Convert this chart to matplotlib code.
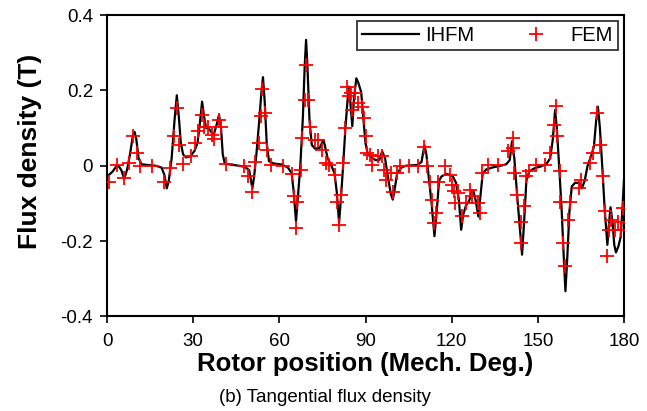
#!/usr/bin/env python3

import numpy as np
import matplotlib.pyplot as plt

plt.rcParams['font.family'] = ['Liberation Sans', 'DejaVu Sans']

# IHFM curve (rotor position in mech. deg., tangential flux density in T)
ihfm_pos = [0, 1, 2, 3, 4, 5, 6, 7, 8, 9, 9.6, 10.2, 11, 12, 14, 17, 19, 20, 20.8, 21.5,
            22.5, 23.5, 24.3, 25, 25.7, 26.5, 27.5, 29, 30.5, 31.5, 32.3, 33.1, 33.8, 34.5,
            35.5, 36.5, 37.3, 38.2, 39, 39.7, 40.3, 41, 43, 46, 48, 49.5, 50.6, 51.2, 52, 53,
            53.8, 54.3, 54.9, 55.6, 56.4, 58, 61, 63, 64.3, 65.0, 65.8, 66.5, 67.3, 68.2,
            68.8, 69.3, 69.8, 70.5, 71.3, 72.5, 74, 74.8, 75.3, 75.8, 76.8, 78, 79.2, 80,
            80.8, 81.5, 82.2, 83, 83.8, 84.3, 84.8, 85.4, 86, 86.8, 87.5, 88.5, 89.3, 90,
            90.8, 92, 93.5, 94.8, 95.8, 96.8, 97.8, 98.8, 99.5, 100.2, 101, 102.5, 104, 108,
            109.5, 110.5, 111.2, 112, 113, 114, 114.8, 115.6, 116.5, 118, 119.5, 120.5,
            121.5, 122.5, 123.3, 124, 125, 126, 127, 127.5, 128.3, 129.3, 130, 130.8, 132,
            134, 137, 139, 140.2, 141.0, 141.8, 142.8, 143.8, 144.5, 145.2, 146, 147, 149,
            151, 153, 154.3, 155.2, 156, 156.6, 157.4, 158.3, 159, 159.6, 160.2, 161, 161.8,
            163, 164.3, 165.3, 166.3, 167.3, 168.5, 169.5, 170.3, 170.9, 171.6, 172.4,
            173.3, 174.2, 174.8, 175.3, 176, 176.6, 177.2, 178, 178.8, 179.4, 180]
ihfm_b = [-0.028, -0.022, -0.015, -0.004, 0.0, -0.012, -0.035, -0.01, 0.03, 0.08, 0.09, 0.07,
          0.02, 0.004, 0.002, 0.0, -0.005, -0.025, -0.06, -0.04, 0.02, 0.12, 0.187, 0.13,
          0.06, 0.03, 0.022, 0.025, 0.04, 0.06, 0.11, 0.17, 0.13, 0.1, 0.098, 0.087, 0.086,
          0.11, 0.135, 0.1, 0.03, 0.006, 0.003, 0.0, -0.003, -0.012, -0.06, -0.03, 0.03,
          0.12, 0.2, 0.235, 0.17, 0.06, 0.012, 0.006, 0.003, -0.005, -0.02, -0.07, -0.148,
          -0.08, 0.0, 0.13, 0.26, 0.334, 0.26, 0.12, 0.055, 0.045, 0.047, 0.06, 0.068,
          0.055, 0.02, 0.002, -0.02, -0.07, -0.152, -0.08, 0.0, 0.1, 0.18, 0.21, 0.16,
          0.105, 0.18, 0.232, 0.22, 0.195, 0.12, 0.06, 0.03, 0.022, 0.015, 0.015, 0.038,
          0.02, -0.03, -0.075, -0.09, -0.06, -0.02, -0.005, 0.0, 0.002, 0.01, 0.054, 0.03,
          -0.03, -0.1, -0.187, -0.12, -0.04, -0.028, -0.022, -0.024, -0.03, -0.045, -0.09,
          -0.17, -0.13, -0.105, -0.095, -0.07, -0.065, -0.09, -0.135, -0.08, -0.02, -0.01,
          -0.005, 0.0, 0.004, 0.015, 0.065, 0.02, -0.08, -0.17, -0.236, -0.15, -0.04,
          -0.015, -0.006, -0.002, 0.005, 0.02, 0.07, 0.148, 0.1, 0.0, -0.12, -0.24, -0.333,
          -0.25, -0.12, -0.055, -0.045, -0.046, -0.06, -0.04, 0.0, 0.025, 0.05, 0.12, 0.157,
          0.1, 0.0, -0.12, -0.21, -0.15, -0.11, -0.15, -0.21, -0.23, -0.215, -0.19, -0.12,
          -0.035]

# FEM samples
fem_pos = [0.6, 3.6, 5.8, 7.5, 9.2, 10.4, 11.5, 15.8, 20, 21.9, 23.3, 24.4, 25, 26.6, 29.3,
           30.5, 31.6, 33.1, 33.9, 35.2, 36.5, 37.4, 39.1, 39.7, 41.3, 47.7, 49.2, 50.6,
           51.6, 52.8, 53.5, 53.9, 54.9, 55.6, 57.1, 61.4, 64.3, 65, 66.1, 65.7, 67.4, 67.9,
           69, 69.3, 70, 70.7, 72.5, 73.6, 75, 76.2, 77.2, 79.4, 80.1, 80.8, 81.5, 82.2,
           82.7, 83.7, 84.1, 84.8, 85.4, 86.5, 87.4, 88.7, 89.4, 90, 90.6, 91.6, 92.3, 94.5,
           95.9, 96.6, 97.3, 98.7, 99.5, 100.9, 102, 105.2, 108.1, 110.3, 111.4, 112.4,
           113.1, 113.9, 114.6, 115.3, 117.5, 119.3, 120, 120.8, 121.1, 122.2, 123.6, 125.1,
           126.5, 127.2, 129, 129.7, 130.4, 132.5, 136.1, 139.7, 141.2, 141.4, 141.8, 142.6,
           144, 144.3, 145.2, 145.8, 146.9, 149.5, 152.4, 154.1, 155.5, 156.3, 156.7, 157.7,
           157.7, 158.7, 159.6, 160.6, 161.3, 164.9, 164.2, 168.2, 169.2, 170.6, 171.6,
           172.8, 173.5, 173.9, 174.9, 175.6, 176.8, 177.8, 178.9, 179.6]
fem_b = [-0.042, 0.003, -0.033, 0.007, 0.08, 0.035, -0.002, -0.002, -0.044, -0.006, 0.078,
         0.153, 0.056, 0.005, 0.025, 0.06, 0.093, 0.135, 0.104, 0.102, 0.082, 0.071, 0.122,
         0.102, 0.005, -0.002, -0.028, -0.07, 0.011, 0.06, 0.131, 0.203, 0.14, 0.042, 0.003,
         -0.002, -0.021, -0.081, -0.095, -0.165, -0.011, 0.073, 0.175, 0.268, 0.175, 0.104,
         0.069, 0.069, 0.042, 0.007, 0.003, -0.024, -0.095, -0.156, -0.077, 0.007, 0.1,
         0.21, 0.184, 0.193, 0.148, 0.193, 0.166, 0.157, 0.126, 0.078, 0.034, 0.029, 0.003,
         0.025, 0.025, -0.011, -0.037, -0.019, -0.071, -0.019, 0.0, 0.0, 0.0, 0.051, 0.0,
         -0.042, -0.09, -0.152, -0.125, -0.042, -0.002, -0.024, -0.05, -0.068, -0.099,
         -0.072, -0.134, -0.099, -0.064, -0.081, -0.099, -0.125, -0.019, 0.003, 0.003,
         0.038, 0.073, 0.047, -0.019, -0.077, -0.148, -0.205, -0.108, -0.028, -0.015, 0.003,
         0.003, 0.034, 0.109, 0.159, 0.078, -0.013, -0.095, -0.205, -0.267, -0.143, -0.095,
         -0.037, -0.059, 0.007, 0.034, 0.14, 0.056, -0.028, -0.121, -0.24, -0.17, -0.143,
         -0.17, -0.148, -0.17, -0.112]

xticks = [0, 30, 60, 90, 120, 150, 180]
yticks = [-0.4, -0.2, 0, 0.2, 0.4]
ytick_labels = ["-0.4", "-0.2", "0", "0.2", "0.4"]

fig = plt.figure(figsize=(6.47, 4.11), dpi=100)
ax = fig.add_axes([0.1654, 0.23, 0.7991, 0.7335])

ax.plot(ihfm_pos, ihfm_b, color='black', lw=1.6, label='IHFM', zorder=2)
ax.plot(fem_pos, fem_b, ls='none', marker='+', ms=9.5, mew=1.3, color='red',
        label='FEM', zorder=3)

ax.set_xlim(0, 180)
ax.set_ylim(-0.4, 0.4)
ax.set_xticks(xticks)
ax.set_yticks(yticks, ytick_labels)
ax.tick_params(direction='out', length=5, width=1.2, labelsize=13.5)
ax.tick_params(axis='x', pad=7)
ax.tick_params(axis='y', pad=5)
for s in ax.spines.values():
    s.set_linewidth(1.5)

ax.set_xlabel('Rotor position (Mech. Deg.)', fontsize=18.5, fontweight='bold', va='top')
ax.xaxis.set_label_coords(0.5, -0.118)
ax.set_ylabel('Flux density (T)', fontsize=19, fontweight='bold')
ax.yaxis.set_label_coords(-0.126, 0.546)

leg = ax.legend(loc='upper right', ncol=2, fontsize=14.5, frameon=True, fancybox=False,
                edgecolor='black', handlelength=2.8, handletextpad=0.3, columnspacing=1.7,
                borderpad=0.25, borderaxespad=0.3)
leg.get_frame().set_linewidth(1.3)

fig.text(0.502, 0.034, '(b) Tangential flux density', ha='center', va='center', fontsize=13.5)

plt.savefig('out.png')
